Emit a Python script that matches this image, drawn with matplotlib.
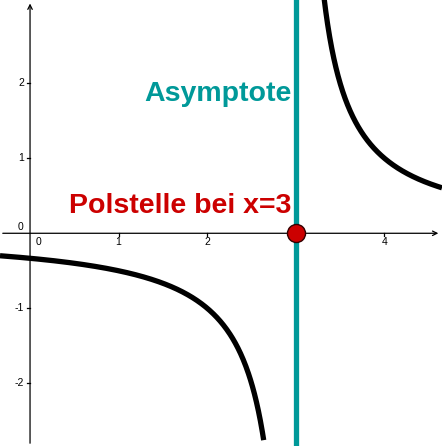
import numpy as np
import matplotlib.pyplot as plt

plt.rcParams['font.family'] = ['Liberation Sans', 'DejaVu Sans']

# view window and function f(x) = 1 / (x - pole)
x_min, x_max = -0.339, 4.65
y_min, y_max = -2.836, 3.11
pole = 3
x_ticks = [1, 2, 4]
y_ticks = [2, 1, -1, -2]

teal = '#009999'
red = '#cc0000'

fig = plt.figure(figsize=(4.42, 4.46), dpi=100)
ax = fig.add_axes([0, 0, 1, 1])
ax.set_xlim(x_min, x_max)
ax.set_ylim(y_min, y_max)
ax.axis('off')

# axes with arrows
ax.annotate('', xy=(x_max - 0.01, 0), xytext=(x_min, 0),
            arrowprops=dict(arrowstyle='->', lw=0.9, color='black', mutation_scale=8))
ax.annotate('', xy=(0, y_max - 0.01), xytext=(0, y_min),
            arrowprops=dict(arrowstyle='->', lw=0.9, color='black', mutation_scale=8))

# ticks and labels
for t in x_ticks:
    ax.plot([t, t], [0, -0.04], color='black', lw=0.9)
    ax.text(t, -0.12, str(t), ha='center', va='center', fontsize=7.5)
ax.text(0.09, -0.12, '0', ha='center', va='center', fontsize=7.5)
for t in y_ticks:
    ax.plot([0, -0.035], [t, t], color='black', lw=0.9)
    ax.text(-0.07, t, str(t), ha='right', va='center', fontsize=7.5)
ax.text(-0.07, 0.08, '0', ha='right', va='center', fontsize=7.5)

# function branches
x_left = np.linspace(x_min, pole - 1 / abs(y_min) - 0.01, 400)
x_right = np.linspace(pole + 1 / y_max - 0.01, x_max, 400)
ax.plot(x_left, 1 / (x_left - pole), color='black', lw=3.8, solid_capstyle='butt', zorder=3)
ax.plot(x_right, 1 / (x_right - pole), color='black', lw=3.8, solid_capstyle='butt', zorder=3)

# asymptote
ax.axvline(pole, color=teal, lw=3.8, zorder=4)

# pole point
ax.plot([pole], [0], 'o', ms=13, color=red, mec='#330000', mew=1, zorder=5)

ax.text(pole - 0.05, 1.86, 'Asymptote', color=teal, fontsize=20.5, fontweight='bold',
        ha='right', va='center')
ax.text(pole - 0.05, 0.36, 'Polstelle bei x=3', color=red, fontsize=20.5, fontweight='bold',
        ha='right', va='center')

fig.savefig('out.png', dpi=100)
